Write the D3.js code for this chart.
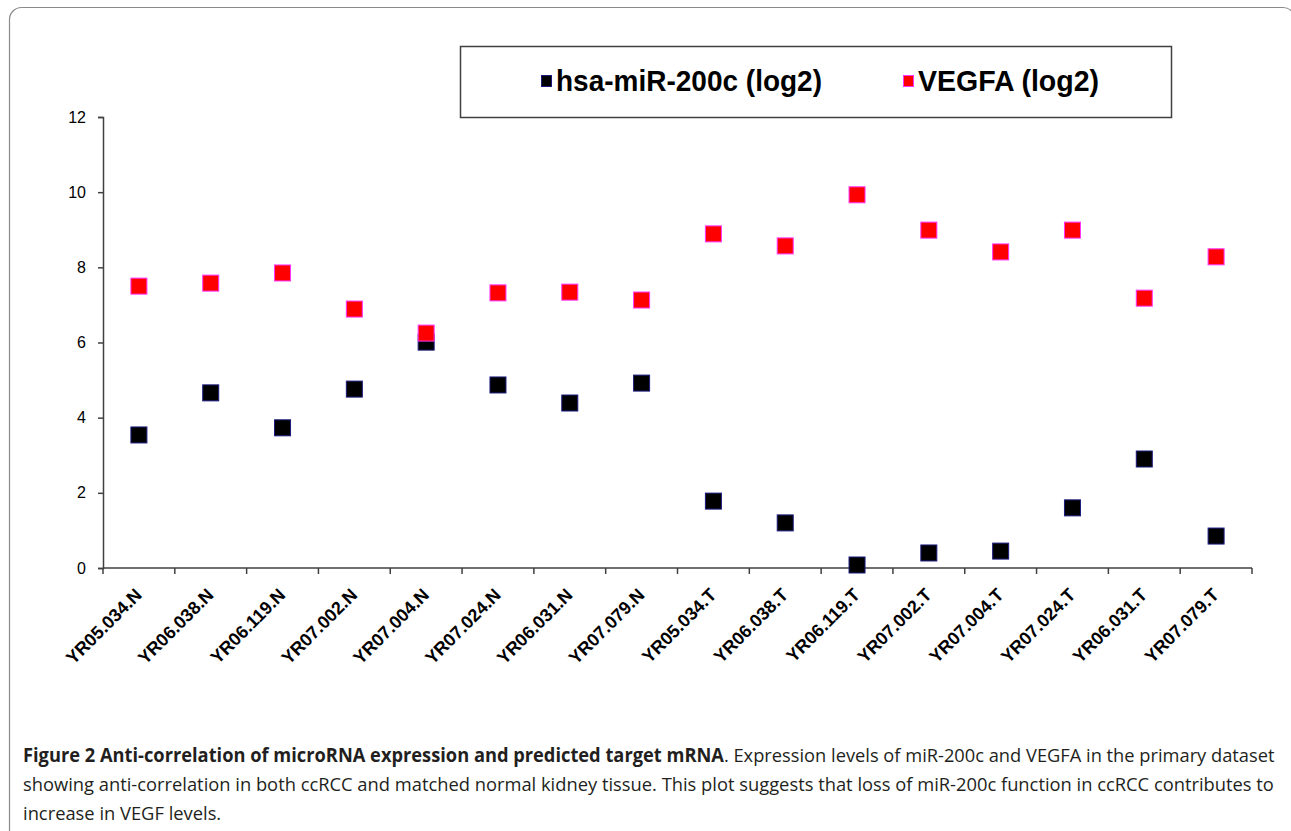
<!DOCTYPE html>
<html>
<head>
  <meta charset="utf-8" />
  <script src="https://d3js.org/d3.v7.min.js"></script>
  <style>
    body { margin: 0; padding: 0; background-color: #ffffff; }
    svg { display: block; }
    .caption { font-family: "Open Sans", "Noto Sans", sans-serif; font-size: 19px; fill: #231f20; }
  </style>
</head>
<body>
  <svg id="chart" width="1291" height="831"></svg>
  <script>
    // samples along the x axis
    const samples = ["YR05.034.N", "YR06.038.N", "YR06.119.N", "YR07.002.N", "YR07.004.N", "YR07.024.N",
      "YR06.031.N", "YR07.079.N", "YR05.034.T", "YR06.038.T", "YR06.119.T", "YR07.002.T",
      "YR07.004.T", "YR07.024.T", "YR06.031.T", "YR07.079.T"];
    // hsa-miR-200c (log2)
    const mir200c = [3.54, 4.66, 3.73, 4.76, 6.01, 4.87, 4.39, 4.92, 1.78, 1.20, 0.08, 0.40, 0.45, 1.60, 2.90, 0.85];
    // VEGFA (log2)
    const vegfa = [7.50, 7.58, 7.85, 6.89, 6.25, 7.32, 7.34, 7.13, 8.89, 8.57, 9.93, 8.99, 8.41, 8.99, 7.18, 8.28];
    const yTicks = [0, 2, 4, 6, 8, 10, 12];

    const arial = "'Liberation Sans', Arial, sans-serif";
    const svg = d3.select("#chart");

    // outer figure frame, right side runs off the page
    svg.append("rect")
      .attr("x", 9.5).attr("y", 7.5)
      .attr("width", 1285.5).attr("height", 900)
      .attr("rx", 12)
      .attr("fill", "none")
      .attr("stroke", "#8a8a8a")
      .attr("stroke-width", 1.2);

    const margin = { left: 103, right: 1252, top: 117, bottom: 568 };

    const x = d3.scaleBand().domain(samples).range([margin.left, margin.right]);
    const y = d3.scaleLinear().domain([0, 12]).range([margin.bottom, margin.top]);

    const axisColor = "#404040";

    // y axis
    const yAxis = svg.append("g")
      .attr("transform", `translate(${margin.left},0)`)
      .call(d3.axisLeft(y).tickValues(yTicks).tickSize(5).tickPadding(12).tickFormat(d3.format("d")));
    yAxis.attr("font-size", null).attr("font-family", null);
    yAxis.select(".domain").attr("stroke", axisColor).attr("stroke-width", 1.5);
    yAxis.selectAll(".tick line").attr("stroke", axisColor).attr("stroke-width", 1.5);
    yAxis.selectAll(".tick text")
      .attr("font-family", arial)
      .attr("font-size", 16)
      .attr("fill", "#000");

    // x axis: ticks at the band edges
    const xAxisG = svg.append("g");
    xAxisG.append("line")
      .attr("x1", margin.left).attr("x2", margin.right)
      .attr("y1", y(0)).attr("y2", y(0))
      .attr("stroke", axisColor).attr("stroke-width", 1.5);
    const edges = samples.map(d => x(d)).concat([margin.right]);
    xAxisG.selectAll(".xtick")
      .data(edges)
      .enter()
      .append("line")
      .attr("x1", d => d).attr("x2", d => d)
      .attr("y1", y(0)).attr("y2", y(0) + 6)
      .attr("stroke", axisColor).attr("stroke-width", 1.5);

    xAxisG.selectAll(".cat-label")
      .data(samples)
      .enter()
      .append("text")
      .attr("font-family", arial)
      .attr("font-size", 18)
      .attr("font-weight", "bold")
      .attr("text-anchor", "end")
      .attr("transform", d => `translate(${x(d) + x.bandwidth() / 2 + 4},${y(0) + 28}) rotate(-45)`)
      .text(d => d);

    // markers
    const size = 16;
    const cx = i => x(samples[i]) + x.bandwidth() / 2;

    svg.append("g").selectAll("rect")
      .data(mir200c)
      .enter()
      .append("rect")
      .attr("x", (d, i) => cx(i) - size / 2)
      .attr("y", d => y(d) - size / 2)
      .attr("width", size).attr("height", size)
      .attr("fill", "#000000")
      .attr("stroke", "#1c1c80")
      .attr("stroke-width", 1);

    svg.append("g").selectAll("rect")
      .data(vegfa)
      .enter()
      .append("rect")
      .attr("x", (d, i) => cx(i) - size / 2)
      .attr("y", d => y(d) - size / 2)
      .attr("width", size).attr("height", size)
      .attr("fill", "#ff0000")
      .attr("stroke", "#ff33ff")
      .attr("stroke-width", 1);

    // legend
    const legend = svg.append("g");
    legend.append("rect")
      .attr("x", 460.5).attr("y", 46.5)
      .attr("width", 711).attr("height", 71)
      .attr("fill", "#fff")
      .attr("stroke", "#404040")
      .attr("stroke-width", 1.5);
    const legendItems = [
      { label: "hsa-miR-200c (log2)", fill: "#000000", stroke: "#1c1c80", mx: 541, tx: 556, w: 266 },
      { label: "VEGFA (log2)", fill: "#ff0000", stroke: "#ff33ff", mx: 903, tx: 918, w: 181 }
    ];
    legendItems.forEach(it => {
      legend.append("rect")
        .attr("x", it.mx + 0.5).attr("y", 75.5)
        .attr("width", 10).attr("height", 11)
        .attr("fill", it.fill).attr("stroke", it.stroke);
      legend.append("text")
        .attr("font-family", arial)
        .attr("font-size", 30)
        .attr("font-weight", "bold")
        .attr("x", it.tx).attr("y", 91)
        .attr("textLength", it.w)
        .attr("lengthAdjust", "spacingAndGlyphs")
        .text(it.label);
    });

    // caption: each line is squeezed horizontally to the width it has in the figure
    function captionLine(yPos) {
      const g = svg.append("g");
      const t = g.append("text").attr("class", "caption").attr("x", 0).attr("y", 0);
      return { g, t, y: yPos };
    }
    const c1 = captionLine(762);
    c1.t.append("tspan").attr("font-weight", "bold")
      .text("Figure 2 Anti-correlation of microRNA expression and predicted target mRNA");
    c1.t.append("tspan")
      .text(". Expression levels of miR-200c and VEGFA in the primary dataset");
    const c2 = captionLine(791);
    c2.t.text("showing anti-correlation in both ccRCC and matched normal kidney tissue. This plot suggests that loss of miR-200c function in ccRCC contributes to");
    const c3 = captionLine(820);
    c3.t.text("increase in VEGF levels.");

    const r1 = 1253 / c1.t.node().getComputedTextLength();
    const r2 = 1252 / c2.t.node().getComputedTextLength();
    c1.g.attr("transform", `translate(23,${c1.y}) scale(${r1},1)`);
    c2.g.attr("transform", `translate(23,${c2.y}) scale(${r2},1)`);
    c3.g.attr("transform", `translate(23,${c3.y}) scale(${r2},1)`);
  </script>
</body>
</html>
